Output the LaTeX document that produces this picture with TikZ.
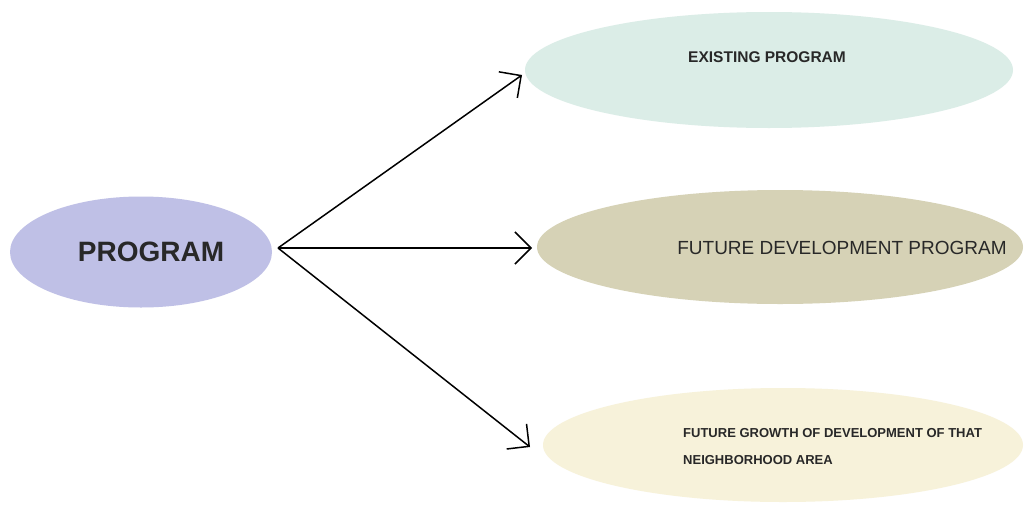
\documentclass[tikz,border=0pt]{standalone}
\usepackage{fontspec}
\setmainfont{Liberation Sans}
\usetikzlibrary{shapes.geometric,arrows.meta}
\definecolor{progfill}{RGB}{191,192,230}
\definecolor{existfill}{RGB}{219,237,231}
\definecolor{futfill}{RGB}{214,210,182}
\definecolor{growfill}{RGB}{247,242,218}
\definecolor{labeltext}{RGB}{40,40,40}
\tikzset{
  blob/.style={ellipse, draw=none, inner sep=0pt},
  lbl/.style={text=labeltext, inner sep=0pt},
  arr/.style={line width=1.5pt, -{Straight Barb[length=16pt,width=32pt]}}
}
\begin{document}
\begin{tikzpicture}[x=1pt,y=-1pt]
  \useasboundingbox[fill=white] (0,0) rectangle (1025,506);
  % ellipses
  \node[blob, fill=progfill, minimum width=262pt, minimum height=111pt] (prog) at (141,252) {};
  \node[blob, fill=existfill, minimum width=488pt, minimum height=116pt] (exist) at (769,70) {};
  \node[blob, fill=futfill, minimum width=486pt, minimum height=114pt] (future) at (780,247) {};
  \node[blob, fill=growfill, minimum width=480pt, minimum height=114pt] (growth) at (783,445) {};
  % labels
  \node[lbl, font=\fontsize{28}{32}\selectfont\bfseries] (progtxt) at (151,252) {PROGRAM};
  \node[lbl, font=\fontsize{15.5}{18}\selectfont\bfseries] (existtxt) at (767,57) {EXISTING PROGRAM};
  \node[lbl, font=\fontsize{19}{22}\selectfont] (futtxt) at (842,248) {FUTURE DEVELOPMENT PROGRAM};
  \node[lbl, font=\fontsize{13}{27}\selectfont\bfseries, align=left, anchor=west] (growtxt) at (683,447)
    {FUTURE GROWTH OF DEVELOPMENT OF THAT\\NEIGHBORHOOD AREA};
  % connectors
  \coordinate (hub) at (278,248);
  \coordinate (tipA) at (522,75);
  \coordinate (tipB) at (532,248);
  \coordinate (tipC) at (530,447);
  \draw[arr] (hub) -- (tipA);
  \draw[arr] (hub) -- (tipB);
  \draw[arr] (hub) -- (tipC);
\end{tikzpicture}
\end{document}
